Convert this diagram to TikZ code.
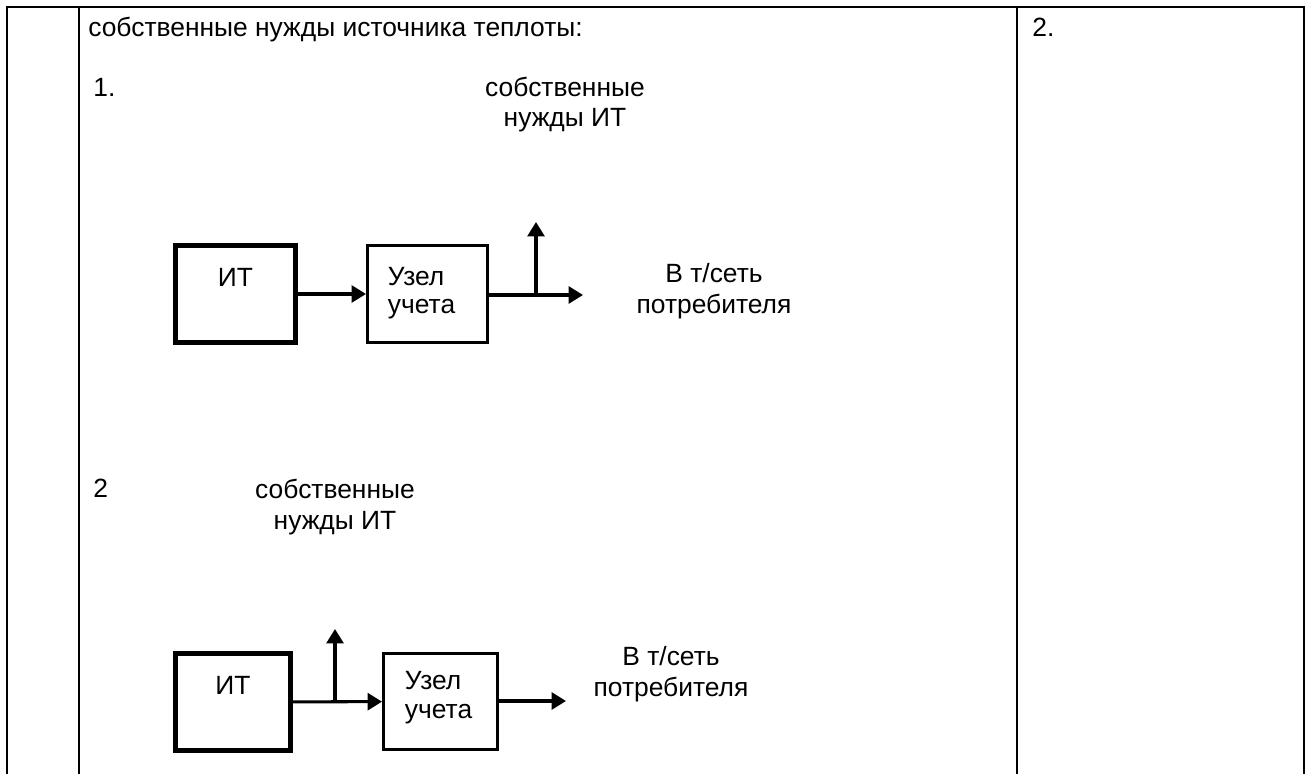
\documentclass[tikz,border=0pt]{standalone}
\usepackage{fontspec}
\setmainfont{Liberation Sans}
\usetikzlibrary{arrows.meta,positioning}
\tikzset{
  txt/.style={inner sep=0pt,font=\fontsize{16.5pt}{19pt}\selectfont},
  itbox/.style={draw,line width=3.1pt,inner sep=0pt,minimum height=60.6pt,
    text height=25.9pt,text depth=34.7pt,font=\fontsize{16.5pt}{18pt}\selectfont},
  uzbox/.style={draw,line width=1.9pt,inner ysep=0pt,align=left,
    font=\fontsize{16.5pt}{18pt}\selectfont},
  flow/.style={->,line width=1.9pt},
  grid/.style={line width=1.25pt}
}
\begin{document}
\begin{tikzpicture}[>={Triangle[length=9pt,width=10.6pt]},x=0.625pt,y=-0.625pt]
            \useasboundingbox (0,0) rectangle (1307,774);
            % table
            \draw[grid] (7,774) -- (7,7) -- (1304,7) -- (1304,774);
            \draw[grid] (79,7) -- (79,774);
            \draw[grid] (1017,7) -- (1017,774);
            \node[txt,anchor=base west] (head) at (88,37) {собственные нужды источника теплоты:};
            \node[txt,anchor=base west] (col2) at (1032,37) {2.};
            % scheme 1
            \node[txt,anchor=base west] (n1) at (93,97) {1.};
            \node[txt,align=center,anchor=base] (sn1) at (565,127) {собственные\\нужды ИТ};
            \node[itbox,minimum width=75pt] (it1) at (235.5,294) {ИТ};
            \node[uzbox,text width=49.4pt,inner xsep=12.8pt,minimum height=60.6pt,
              text height=24.7pt,text depth=35.9pt] (uz1) at (427.5,294) {Узел\\учета};
            \coordinate (br1) at (536,295);
            \coordinate (up1) at (536,222);
            \coordinate (out1) at (583,295);
            \node[txt,align=center,anchor=base] (net1) at (714,313) {В т/сеть\\потребителя};
            \draw[flow] (it1) -- (uz1);
            \draw[flow] (uz1.east|-br1) -- (out1);
            \draw[flow] (br1) -- (up1);
            % scheme 2
            \node[txt,anchor=base west] (n2) at (93,497) {2};
            \node[txt,align=center,anchor=base] (sn2) at (335,529) {собственные\\нужды ИТ};
            \node[itbox,minimum width=71.9pt] (it2) at (233,702) {ИТ};
            \node[uzbox,text width=44.4pt,inner xsep=13.4pt,minimum height=60pt,
              text height=22.8pt,text depth=37.2pt] (uz2) at (440.5,701.5) {Узел\\учета};
            \coordinate (br2) at (335,701);
            \coordinate (up2) at (335,629);
            \coordinate (out2) at (566,701);
            \node[txt,align=center,anchor=base] (net2) at (671,696) {В т/сеть\\потребителя};
            \draw[flow] (it2) -- (uz2);
            \draw[flow] (uz2.east|-br2) -- (out2);
            \draw[flow] (br2) -- (up2);
\end{tikzpicture}
\end{document}
